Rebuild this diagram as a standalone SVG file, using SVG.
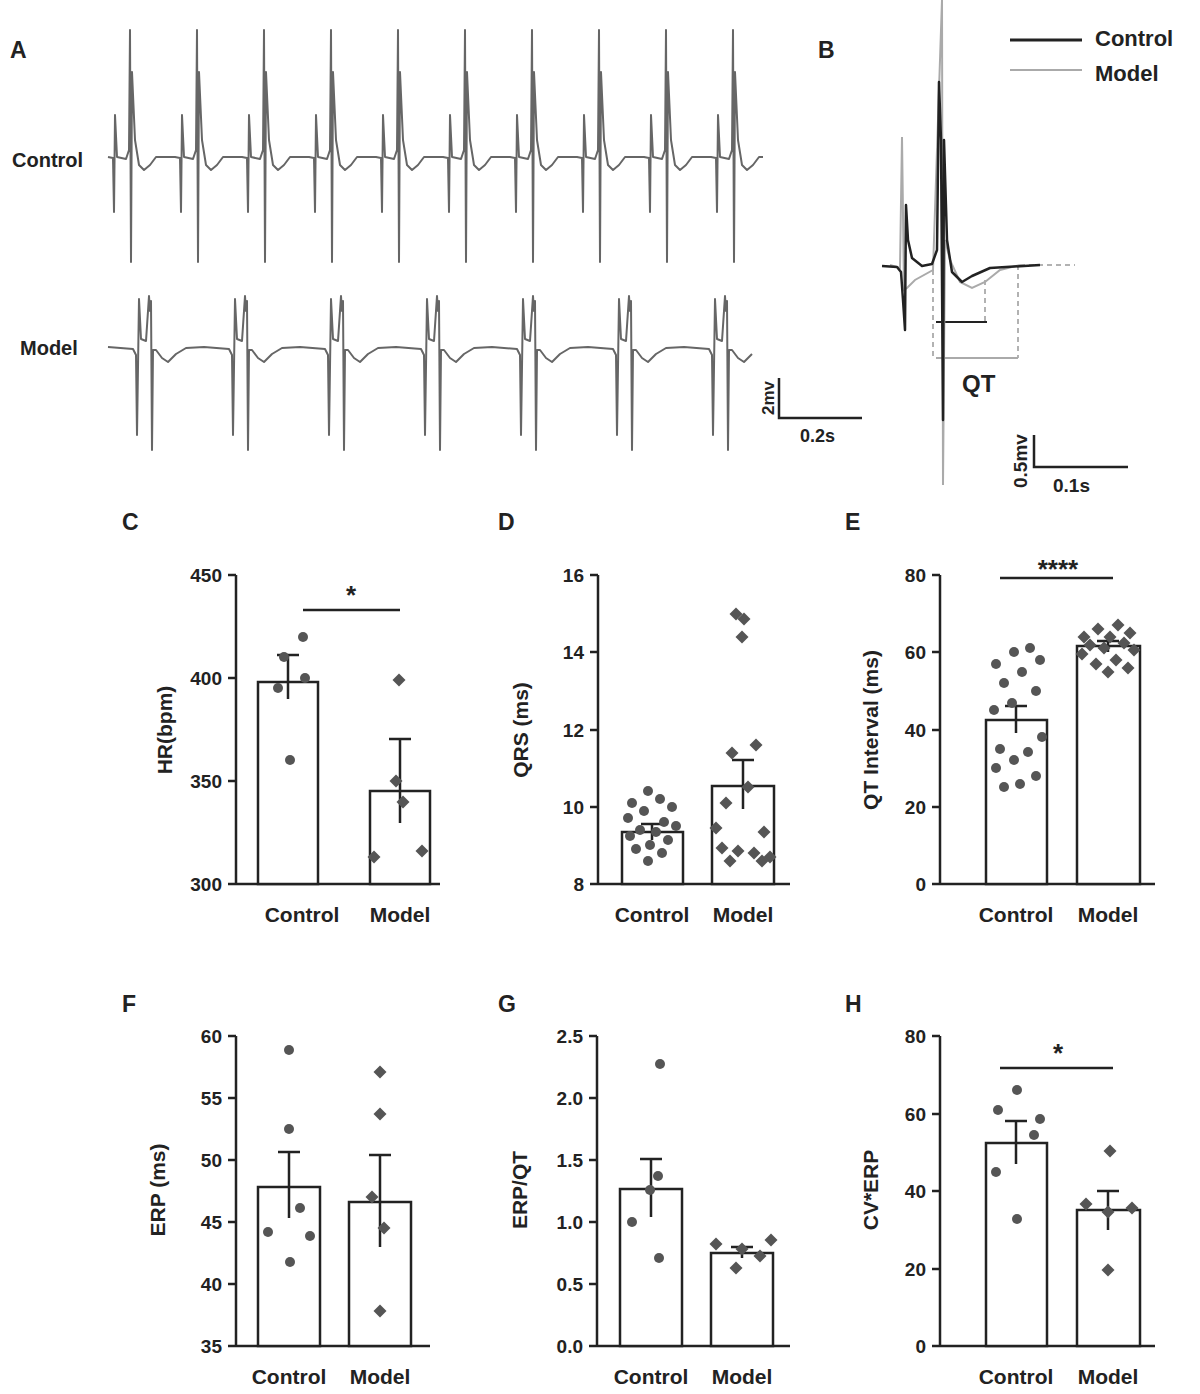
<svg xmlns="http://www.w3.org/2000/svg" xmlns:xlink="http://www.w3.org/1999/xlink" width="1200" height="1394" viewBox="0 0 1200 1394">
<style>
text{font-family:"Liberation Sans",Arial,sans-serif;font-weight:bold;fill:#222}
.pl{font-size:23px}
.t{font-size:19px;text-anchor:end}
.xl{font-size:21px;text-anchor:middle}
.yl{font-size:21px;text-anchor:middle}
.ax{stroke:#222;stroke-width:2.5;fill:none}
.bar{stroke:#222;stroke-width:2.5;fill:#fff}
.eb{stroke:#222;stroke-width:2.5;fill:none}
.d{fill:#555}
.ecg{fill:none;stroke:#666;stroke-width:2;stroke-linejoin:round}
</style>
<defs><path id="dm" d="M0,-6.5 L6.5,0 L0,6.5 L-6.5,0Z" fill="#555"/></defs>
<rect width="1200" height="1394" fill="#fff"/>
<g id="panelA">
<text class="pl" x="10" y="58">A</text>
<text x="12" y="167" font-size="20">Control</text>
<text x="20" y="355" font-size="20">Model</text>
<path class="ecg" d="M108,157 l5,1 l1,54 l1,-97 l2,42 l9,2 l3,-9 l1,-120 l1,232 l1,-190 l3,68 l4,25 l5,5 l6,-5 l6,-8 l19,0 l5,1 l1,54 l1,-97 l2,42 l9,2 l3,-9 l1,-120 l1,232 l1,-190 l3,68 l4,25 l5,5 l6,-5 l6,-8 l19,0 l5,1 l1,54 l1,-97 l2,42 l9,2 l3,-9 l1,-120 l1,232 l1,-190 l3,68 l4,25 l5,5 l6,-5 l6,-8 l19,0 l5,1 l1,54 l1,-97 l2,42 l9,2 l3,-9 l1,-120 l1,232 l1,-190 l3,68 l4,25 l5,5 l6,-5 l6,-8 l19,0 l5,1 l1,54 l1,-97 l2,42 l9,2 l3,-9 l1,-120 l1,232 l1,-190 l3,68 l4,25 l5,5 l6,-5 l6,-8 l19,0 l5,1 l1,54 l1,-97 l2,42 l9,2 l3,-9 l1,-120 l1,232 l1,-190 l3,68 l4,25 l5,5 l6,-5 l6,-8 l19,0 l5,1 l1,54 l1,-97 l2,42 l9,2 l3,-9 l1,-120 l1,232 l1,-190 l3,68 l4,25 l5,5 l6,-5 l6,-8 l19,0 l5,1 l1,54 l1,-97 l2,42 l9,2 l3,-9 l1,-120 l1,232 l1,-190 l3,68 l4,25 l5,5 l6,-5 l6,-8 l19,0 l5,1 l1,54 l1,-97 l2,42 l9,2 l3,-9 l1,-120 l1,232 l1,-190 l3,68 l4,25 l5,5 l6,-5 l6,-8 l19,0 l5,1 l1,54 l1,-97 l2,42 l9,2 l3,-9 l1,-120 l1,232 l1,-190 l3,68 l4,25 l5,5 l6,-5 l6,-8 l4,0"/>
<path class="ecg" stroke="#444" d="M108,347 l25,2 l3,6 l1,80 l2,-136 l2,40 l5,2 l2,-30 l1,-15 l1,15 l1,-10 l1,149 l1,-100 l3,0 l6,8 l6,4 l8,-8 l10,-6 l18,-1 l25,2 l3,6 l1,80 l2,-136 l2,40 l5,2 l2,-30 l1,-15 l1,15 l1,-10 l1,149 l1,-100 l3,0 l6,8 l6,4 l8,-8 l10,-6 l18,-1 l25,2 l3,6 l1,80 l2,-136 l2,40 l5,2 l2,-30 l1,-15 l1,15 l1,-10 l1,149 l1,-100 l3,0 l6,8 l6,4 l8,-8 l10,-6 l18,-1 l25,2 l3,6 l1,80 l2,-136 l2,40 l5,2 l2,-30 l1,-15 l1,15 l1,-10 l1,149 l1,-100 l3,0 l6,8 l6,4 l8,-8 l10,-6 l18,-1 l25,2 l3,6 l1,80 l2,-136 l2,40 l5,2 l2,-30 l1,-15 l1,15 l1,-10 l1,149 l1,-100 l3,0 l6,8 l6,4 l8,-8 l10,-6 l18,-1 l25,2 l3,6 l1,80 l2,-136 l2,40 l5,2 l2,-30 l1,-15 l1,15 l1,-10 l1,149 l1,-100 l3,0 l6,8 l6,4 l8,-8 l10,-6 l18,-1 l25,2 l3,6 l1,80 l2,-136 l2,40 l5,2 l2,-30 l1,-15 l1,15 l1,-10 l1,149 l1,-100 l3,0 l6,8 l6,4 l8,-8"/>
<path class="ax" stroke-width="2" d="M779,378 V418 H862"/>
<text x="0" y="0" font-size="17" transform="translate(774,415) rotate(-90)">2mv</text>
<text x="800" y="442" font-size="18">0.2s</text>
</g>
<g id="panelB">
<text class="pl" x="818" y="58">B</text>
<path d="M1010,40 H1082" stroke="#222" stroke-width="3"/>
<text x="1095" y="46" font-size="22">Control</text>
<path d="M1010,70 H1082" stroke="#aaa" stroke-width="2"/>
<text x="1095" y="81" font-size="22">Model</text>
<path d="M1020,265 H1075" stroke="#999" stroke-width="1.5" stroke-dasharray="5,4" fill="none"/>
<path d="M933,270 V358 M1018,265 V358 M985,280 V322" stroke="#999" stroke-width="1.5" stroke-dasharray="5,4" fill="none"/>
<path d="M936,358 H1018" stroke="#aaa" stroke-width="2"/>
<path d="M936,322 H987" stroke="#222" stroke-width="2"/>
<path fill="none" stroke="#aaa" stroke-width="2" d="M890,265 L900,268 L902,137 L904,290 L907,288 L915,280 L933,270 L942,0 L943,485 L945,240 L950,260 L960,282 L972,288 L985,282 L1000,270 L1020,265"/>
<path fill="none" stroke="#222" stroke-width="2.5" stroke-linejoin="round" d="M882,266 L897,267 L901,272 L903,300 L905,330 L906,205 L908,240 L912,258 L922,266 L932,264 L937,250 L939,82 L941,140 L943,420 L944,140 L947,240 L952,272 L962,282 L972,276 L990,268 L1040,265"/>
<text x="962" y="392" font-size="24">QT</text>
<path class="ax" stroke-width="2" d="M1034,435 V467 H1128"/>
<text x="0" y="0" font-size="19" transform="translate(1027,488) rotate(-90)">0.5mv</text>
<text x="1053" y="492" font-size="19">0.1s</text>
</g>
<g id="panelC">
<text class="pl" x="122" y="530">C</text>
<path class="ax" d="M236,575 V884 H440 M228,575 H236 M228,678 H236 M228,781 H236 M228,884 H236"/>
<text class="t" x="222" y="582">450</text><text class="t" x="222" y="685">400</text><text class="t" x="222" y="788">350</text><text class="t" x="222" y="891">300</text>
<rect class="bar" x="258" y="682" width="60" height="202"/><rect class="bar" x="370" y="791" width="60" height="93"/>
<path class="eb" d="M288,699 V655 M277,655 H299 M400,823 V739 M389,739 H411"/>
<circle class="d" cx="303" cy="637" r="5"/><circle class="d" cx="284" cy="657" r="5"/><circle class="d" cx="305" cy="678" r="5"/><circle class="d" cx="278" cy="688" r="5"/><circle class="d" cx="290" cy="760" r="5"/>
<use xlink:href="#dm" x="399" y="680"/><use xlink:href="#dm" x="396" y="781"/><use xlink:href="#dm" x="403" y="802"/><use xlink:href="#dm" x="374" y="857"/><use xlink:href="#dm" x="422" y="851"/>
<path class="ax" d="M303,610 H400"/><text x="351" y="604" font-size="26" text-anchor="middle">*</text>
<text class="xl" x="302" y="922">Control</text><text class="xl" x="400" y="922">Model</text>
<text class="yl" transform="translate(172,730) rotate(-90)">HR(bpm)</text>
</g>
<g id="panelD">
<text class="pl" x="498" y="530">D</text>
<path class="ax" d="M598,575 V884 H790 M590,575 H598 M590,652 H598 M590,730 H598 M590,807 H598 M590,884 H598"/>
<text class="t" x="584" y="582">16</text><text class="t" x="584" y="659">14</text><text class="t" x="584" y="737">12</text><text class="t" x="584" y="814">10</text><text class="t" x="584" y="891">8</text>
<rect class="bar" x="622" y="832" width="61" height="52"/><rect class="bar" x="712" y="786" width="62" height="98"/>
<path class="eb" d="M652,840 V824 M641,824 H663 M743,809 V760 M732,760 H754"/>
<circle class="d" cx="648" cy="791" r="5"/><circle class="d" cx="660" cy="799" r="5"/><circle class="d" cx="632" cy="803" r="5"/><circle class="d" cx="672" cy="807" r="5"/><circle class="d" cx="644" cy="811" r="5"/><circle class="d" cx="628" cy="818" r="5"/><circle class="d" cx="664" cy="822" r="5"/><circle class="d" cx="676" cy="826" r="5"/><circle class="d" cx="640" cy="830" r="5"/><circle class="d" cx="656" cy="832" r="5"/><circle class="d" cx="630" cy="836" r="5"/><circle class="d" cx="668" cy="840" r="5"/><circle class="d" cx="650" cy="845" r="5"/><circle class="d" cx="636" cy="849" r="5"/><circle class="d" cx="662" cy="853" r="5"/><circle class="d" cx="648" cy="861" r="5"/>
<use xlink:href="#dm" x="736" y="614"/><use xlink:href="#dm" x="744" y="619"/><use xlink:href="#dm" x="742" y="637"/><use xlink:href="#dm" x="756" y="745"/><use xlink:href="#dm" x="732" y="753"/><use xlink:href="#dm" x="748" y="787"/><use xlink:href="#dm" x="726" y="803"/><use xlink:href="#dm" x="716" y="828"/><use xlink:href="#dm" x="764" y="832"/><use xlink:href="#dm" x="722" y="848"/><use xlink:href="#dm" x="738" y="851"/><use xlink:href="#dm" x="754" y="853"/><use xlink:href="#dm" x="770" y="857"/><use xlink:href="#dm" x="730" y="861"/><use xlink:href="#dm" x="762" y="861"/>
<text class="xl" x="652" y="922">Control</text><text class="xl" x="743" y="922">Model</text>
<text class="yl" transform="translate(528,730) rotate(-90)">QRS (ms)</text>
</g>
<g id="panelE">
<text class="pl" x="845" y="530">E</text>
<path class="ax" d="M940,575 V884 H1155 M932,575 H940 M932,652 H940 M932,730 H940 M932,807 H940 M932,884 H940"/>
<text class="t" x="926" y="582">80</text><text class="t" x="926" y="659">60</text><text class="t" x="926" y="737">40</text><text class="t" x="926" y="814">20</text><text class="t" x="926" y="891">0</text>
<rect class="bar" x="986" y="720" width="61" height="164"/><rect class="bar" x="1077" y="646" width="63" height="238"/>
<path class="eb" d="M1016,733 V706 M1005,706 H1027 M1108,652 V641 M1097,641 H1119"/>
<circle class="d" cx="1030" cy="648" r="5"/><circle class="d" cx="1014" cy="652" r="5"/><circle class="d" cx="1040" cy="660" r="5"/><circle class="d" cx="996" cy="664" r="5"/><circle class="d" cx="1022" cy="672" r="5"/><circle class="d" cx="1004" cy="683" r="5"/><circle class="d" cx="1036" cy="691" r="5"/><circle class="d" cx="1012" cy="703" r="5"/><circle class="d" cx="994" cy="710" r="5"/><circle class="d" cx="1042" cy="737" r="5"/><circle class="d" cx="1000" cy="749" r="5"/><circle class="d" cx="1028" cy="752" r="5"/><circle class="d" cx="1014" cy="760" r="5"/><circle class="d" cx="996" cy="768" r="5"/><circle class="d" cx="1036" cy="776" r="5"/><circle class="d" cx="1020" cy="784" r="5"/><circle class="d" cx="1004" cy="787" r="5"/>
<use xlink:href="#dm" x="1118" y="625"/><use xlink:href="#dm" x="1098" y="629"/><use xlink:href="#dm" x="1130" y="633"/><use xlink:href="#dm" x="1084" y="637"/><use xlink:href="#dm" x="1110" y="637"/><use xlink:href="#dm" x="1124" y="643"/><use xlink:href="#dm" x="1090" y="645"/><use xlink:href="#dm" x="1104" y="648"/><use xlink:href="#dm" x="1134" y="650"/><use xlink:href="#dm" x="1082" y="654"/><use xlink:href="#dm" x="1116" y="660"/><use xlink:href="#dm" x="1096" y="664"/><use xlink:href="#dm" x="1128" y="668"/><use xlink:href="#dm" x="1108" y="672"/>
<path class="ax" d="M1000,578 H1113"/><text x="1058" y="578" font-size="26" text-anchor="middle">****</text>
<text class="xl" x="1016" y="922">Control</text><text class="xl" x="1108" y="922">Model</text>
<text class="yl" transform="translate(878,730) rotate(-90)">QT Interval (ms)</text>
</g>
<g id="panelF">
<text class="pl" x="122" y="1012">F</text>
<path class="ax" d="M236,1036 V1346 H430 M228,1036 H236 M228,1098 H236 M228,1160 H236 M228,1222 H236 M228,1284 H236 M228,1346 H236"/>
<text class="t" x="222" y="1043">60</text><text class="t" x="222" y="1105">55</text><text class="t" x="222" y="1167">50</text><text class="t" x="222" y="1229">45</text><text class="t" x="222" y="1291">40</text><text class="t" x="222" y="1353">35</text>
<rect class="bar" x="258" y="1187" width="62" height="159"/><rect class="bar" x="349" y="1202" width="62" height="144"/>
<path class="eb" d="M289,1218 V1152 M278,1152 H300 M380,1247 V1155 M369,1155 H391"/>
<circle class="d" cx="289" cy="1050" r="5"/><circle class="d" cx="289" cy="1129" r="5"/><circle class="d" cx="300" cy="1208" r="5"/><circle class="d" cx="268" cy="1232" r="5"/><circle class="d" cx="310" cy="1236" r="5"/><circle class="d" cx="290" cy="1262" r="5"/>
<use xlink:href="#dm" x="380" y="1072"/><use xlink:href="#dm" x="380" y="1114"/><use xlink:href="#dm" x="372" y="1197"/><use xlink:href="#dm" x="384" y="1228"/><use xlink:href="#dm" x="380" y="1311"/>
<text class="xl" x="289" y="1384">Control</text><text class="xl" x="380" y="1384">Model</text>
<text class="yl" transform="translate(165,1190) rotate(-90)">ERP (ms)</text>
</g>
<g id="panelG">
<text class="pl" x="498" y="1012">G</text>
<path class="ax" d="M597,1036 V1346 H790 M589,1036 H597 M589,1098 H597 M589,1160 H597 M589,1222 H597 M589,1284 H597 M589,1346 H597"/>
<text class="t" x="583" y="1043">2.5</text><text class="t" x="583" y="1105">2.0</text><text class="t" x="583" y="1167">1.5</text><text class="t" x="583" y="1229">1.0</text><text class="t" x="583" y="1291">0.5</text><text class="t" x="583" y="1353">0.0</text>
<rect class="bar" x="620" y="1189" width="62" height="157"/><rect class="bar" x="711" y="1253" width="62" height="93"/>
<path class="eb" d="M651,1217 V1159 M640,1159 H662 M742,1258 V1247 M731,1247 H753"/>
<circle class="d" cx="660" cy="1064" r="5"/><circle class="d" cx="658" cy="1176" r="5"/><circle class="d" cx="650" cy="1190" r="5"/><circle class="d" cx="632" cy="1222" r="5"/><circle class="d" cx="659" cy="1258" r="5"/>
<use xlink:href="#dm" x="771" y="1240"/><use xlink:href="#dm" x="716" y="1244"/><use xlink:href="#dm" x="742" y="1249"/><use xlink:href="#dm" x="760" y="1256"/><use xlink:href="#dm" x="736" y="1268"/>
<text class="xl" x="651" y="1384">Control</text><text class="xl" x="742" y="1384">Model</text>
<text class="yl" transform="translate(527,1190) rotate(-90)">ERP/QT</text>
</g>
<g id="panelH">
<text class="pl" x="845" y="1012">H</text>
<path class="ax" d="M940,1036 V1346 H1155 M932,1036 H940 M932,1114 H940 M932,1191 H940 M932,1269 H940 M932,1346 H940"/>
<text class="t" x="926" y="1043">80</text><text class="t" x="926" y="1121">60</text><text class="t" x="926" y="1198">40</text><text class="t" x="926" y="1276">20</text><text class="t" x="926" y="1353">0</text>
<rect class="bar" x="986" y="1143" width="61" height="203"/><rect class="bar" x="1077" y="1210" width="63" height="136"/>
<path class="eb" d="M1016,1164 V1121 M1005,1121 H1027 M1108,1230 V1191 M1097,1191 H1119"/>
<circle class="d" cx="1017" cy="1090" r="5"/><circle class="d" cx="998" cy="1110" r="5"/><circle class="d" cx="1040" cy="1119" r="5"/><circle class="d" cx="1034" cy="1135" r="5"/><circle class="d" cx="996" cy="1172" r="5"/><circle class="d" cx="1017" cy="1219" r="5"/>
<use xlink:href="#dm" x="1110" y="1151"/><use xlink:href="#dm" x="1086" y="1204"/><use xlink:href="#dm" x="1132" y="1208"/><use xlink:href="#dm" x="1108" y="1212"/><use xlink:href="#dm" x="1108" y="1270"/>
<path class="ax" d="M1000,1068 H1113"/><text x="1058" y="1062" font-size="26" text-anchor="middle">*</text>
<text class="xl" x="1016" y="1384">Control</text><text class="xl" x="1108" y="1384">Model</text>
<text class="yl" transform="translate(878,1190) rotate(-90)">CV*ERP</text>
</g>
</svg>
